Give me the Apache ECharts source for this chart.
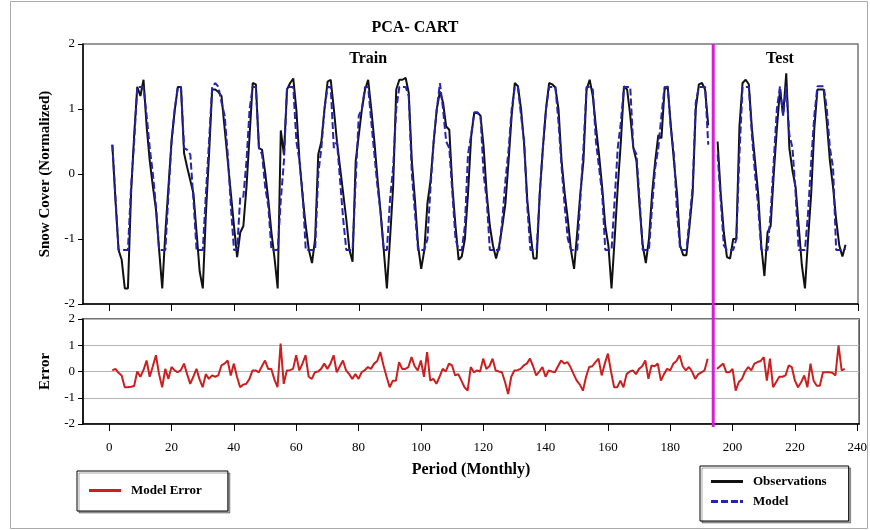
<!DOCTYPE html>
<html>
<head>
<meta charset="utf-8">
<script src="https://cdn.jsdelivr.net/npm/echarts@6/dist/echarts.min.js"></script>
<style>
  html, body { margin: 0; padding: 0; background: #fff; }
  #main { width: 870px; height: 530px; }
</style>
</head>
<body>
<div id="main"></div>
<script>
// monthly values, month 1..236 (193-194 are the gap between train and test)
const observations = [
  0.45, -0.4, -1.17, -1.32, -1.76, -1.76, -0.3, 0.6, 1.34, 1.2, 1.45, 0.73,
  0.2, -0.19, -0.55, -1.17, -1.76, -0.9, -0.19, 0.52, 0.98, 1.34, 1.34, 0.32,
  0.1, -0.1, -0.3, -0.9, -1.5, -1.76, -0.6, 0.3, 1.3, 1.3, 1.26, 1.2,
  0.7, 0.2, -0.3, -0.8, -1.28, -0.9, -0.8, -0.2, 0.6, 1.4, 1.38, 0.4,
  0.37, 0.02, -0.4, -0.9, -1.3, -1.76, 0.67, 0.3, 1.3, 1.4, 1.47, 0.98,
  0.2, -0.35, -0.8, -1.17, -1.37, -1.0, 0.3, 0.5, 1.0, 1.42, 1.45, 1.0,
  0.5, 0.1, -0.3, -0.7, -1.17, -1.35, 0.2, 0.6, 1.0, 1.3, 1.45, 1.0,
  0.5, -0.08, -0.6, -1.17, -1.76, -1.0, -0.2, 1.3, 1.45, 1.45, 1.48, 1.25,
  0.2, -0.4, -1.1, -1.46, -1.17, -0.45, -0.1, 0.5, 1.0, 1.27, 1.1, 0.73,
  0.68, -0.2, -0.8, -1.32, -1.27, -1.0, -0.3, 0.57, 0.94, 0.94, 0.9, 0.42,
  -0.3, -0.8, -1.1, -1.3, -1.1, -0.8, -0.45, 0.2, 0.9, 1.4, 1.35, 1.0,
  0.45, -0.4, -0.9, -1.3, -1.3, -0.3, 0.4, 1.0, 1.4, 1.38, 1.33, 1.0,
  0.2, -0.3, -0.7, -1.17, -1.46, -0.9, -0.3, 0.2, 1.3, 1.45, 1.2, 0.73,
  0.3, -0.2, -0.8, -1.1, -1.76, -1.0, -0.2, 0.5, 1.35, 1.3, 0.9, 0.4,
  0.2, -0.5, -1.1, -1.37, -1.0, -0.3, 0.2, 0.6, 0.55, 1.3, 1.35, 0.75,
  0.2, -0.3, -1.1, -1.25, -1.25, -0.8, -0.3, 1.0, 1.38, 1.4, 1.3, 0.75,
  null, null,
  0.5, -0.3, -0.9, -1.28, -1.3, -1.0, -1.0, 0.73, 1.4, 1.45, 1.38, 0.7,
  0.2, -0.3, -1.1, -1.57, -0.9, -0.8, 0.0, 0.7, 1.3, 0.9, 1.55, 0.4,
  0.05, -0.2, -0.8, -1.4, -1.76, -1.0, -0.3, 0.7, 1.3, 1.3, 1.3, 0.8,
  0.2, -0.2, -0.7, -1.1, -1.27, -1.09
];

const model = [
  0.45, -0.35, -1.17, -1.17, -1.17, -1.17, -0.2, 0.5, 1.34, 1.34, 1.34, 0.9,
  0.4, 0.0, -0.5, -1.17, -1.17, -1.17, -0.3, 0.5, 1.0, 1.34, 1.34, 0.4,
  0.37, 0.3, -0.4, -1.17, -1.17, -1.17, -0.3, 0.5, 1.34, 1.4, 1.34, 1.1,
  0.9, 0.3, -0.5, -1.17, -1.17, -0.35, -0.35, 0.2, 1.0, 1.34, 1.34, 0.4,
  0.3, -0.2, -0.5, -1.17, -1.17, -1.17, -0.4, 0.2, 1.34, 1.34, 1.34, 0.5,
  0.2, -0.3, -1.17, -1.17, -1.17, -1.17, 0.0, 0.4, 1.0, 1.34, 1.34, 0.4,
  0.5, -0.1, -0.7, -1.17, -1.17, -1.17, -0.1, 0.9, 1.0, 1.34, 1.34, 0.8,
  0.3, -0.2, -0.6, -1.17, -1.17, -0.4, 0.1, 1.0, 1.34, 1.34, 1.34, 1.2,
  0.0, -0.6, -1.17, -1.17, -1.17, -1.0, -0.2, 0.5, 1.0, 1.4, 1.0, 0.5,
  0.4, -0.3, -1.0, -1.17, -1.17, -0.8, 0.3, 0.6, 0.95, 0.95, 0.9, 0.0,
  -0.4, -1.17, -1.17, -1.17, -1.17, -0.7, -0.1, 0.37, 1.0, 1.34, 1.34, 0.9,
  0.5, -0.5, -1.17, -1.17, -1.17, -0.3, 0.4, 1.0, 1.34, 1.34, 1.34, 0.8,
  0.1, -0.5, -1.0, -1.17, -1.17, -1.17, -0.4, 0.4, 1.34, 1.34, 1.3, 0.5,
  0.1, -0.3, -1.17, -1.17, -1.17, -0.4, 0.4, 0.8, 1.34, 1.34, 1.34, 0.4,
  0.3, -0.4, -1.17, -1.17, -1.17, -0.5, 0.1, 0.4, 0.9, 1.34, 1.34, 0.7,
  0.3, -0.6, -1.17, -1.17, -1.17, -0.7, -0.2, 1.1, 1.34, 1.34, 1.34, 0.45,
  null, null,
  0.3, -0.4, -1.1, -1.17, -1.17, -1.17, -1.0, 0.3, 1.34, 1.34, 1.34, 0.6,
  0.0, -0.5, -1.17, -1.17, -1.17, -0.6, 0.2, 1.0, 1.35, 0.9, 1.35, 0.6,
  0.4, -0.3, -1.17, -1.17, -1.17, -0.6, 0.2, 0.9, 1.35, 1.35, 1.35, 1.0,
  0.4, 0.1, -1.17, -1.17, -1.17, -1.15
];

const modelError = [
  0.04, 0.1, -0.05, -0.15, -0.6, -0.6, -0.58, -0.55, 0.0, -0.2, 0.05, 0.42,
  -0.2, 0.2, 0.62, -0.1, -0.6, 0.1, -0.28, 0.17, 0.04, -0.03, 0.05, 0.3,
  -0.1, -0.47, -0.2, 0.1, -0.3, -0.6, -0.1, -0.28, -0.15, -0.2, -0.15, 0.23,
  0.3, 0.42, -0.15, 0.3, -0.2, -0.6, -0.5, -0.47, -0.28, 0.04, 0.04, -0.03,
  0.2, 0.42, 0.1, 0.1, -0.3, -0.6, 1.06, -0.47, 0.04, 0.05, 0.1, 0.62,
  0.04, 0.3, 0.62, -0.2, -0.28, -0.03, 0.0, 0.1, 0.3, 0.1, 0.3, 0.62,
  -0.03, 0.2, 0.42, 0.04, -0.1, -0.28, -0.1, -0.28, -0.03, 0.05, 0.17, 0.1,
  0.3, 0.4, 0.74, 0.23, -0.2, -0.6, -0.35, -0.35, 0.36, 0.1, 0.1, 0.17,
  0.55, 0.2, 0.04, 0.42, -0.2, 0.74, -0.35, -0.28, -0.47, -0.2, 0.1, 0.0,
  0.3, 0.23, -0.15, -0.1, -0.35, -0.6, -0.73, 0.17, -0.03, 0.04, 0.0, 0.49,
  0.1, 0.2, 0.49, 0.04, 0.0, -0.03, -0.4, -0.86, -0.2, 0.04, 0.05, 0.1,
  0.23, 0.3, 0.49, 0.2, -0.15, 0.0, 0.17, -0.2, 0.04, 0.0, -0.03, 0.2,
  0.42, 0.3, 0.36, 0.17, -0.1, -0.35, -0.5, -0.73, -0.2, 0.17, 0.2, 0.36,
  0.49, -0.15, 0.3, 0.68, 0.0, -0.6, -0.6, -0.35, -0.6, -0.1, 0.0, 0.04,
  -0.1, 0.1, 0.2, 0.42, -0.28, 0.23, 0.2, 0.3, -0.35, -0.1, 0.1, 0.04,
  0.3, 0.4, 0.62, 0.2, 0.04, 0.17, 0.0, -0.28, -0.1, -0.03, 0.04, 0.49,
  null, null,
  0.1, 0.2, 0.3, -0.03, -0.03, 0.1, -0.73, -0.4, -0.28, 0.0, 0.17, 0.04,
  0.3, 0.36, 0.4, 0.55, -0.35, 0.49, -0.6, -0.4, -0.2, -0.2, -0.15, 0.23,
  0.17, -0.35, -0.6, -0.41, -0.15, -0.6, 0.3, -0.35, -0.54, -0.54, -0.03, -0.03,
  -0.03, -0.05, -0.15, 1.0, 0.04, 0.1
];

const xTicks = [0, 20, 40, 60, 80, 100, 120, 140, 160, 180, 200, 220, 240];
const splitMonth = 193.6;

const serif = 'Liberation Serif';
const toPairs = arr => arr.map((v, i) => [i + 1, v]);
const solidIcon = 'path://M0,0h32v3h-32z';
const dashIcon = 'path://M0,0h7v3h-7z M10,0h7v3h-7z M20,0h7v3h-7z M29,0h3v3h-3z';

const chart = echarts.init(document.getElementById('main'));

const legendBox = {
  orient: 'vertical',
  borderColor: '#000',
  borderWidth: 1,
  shadowColor: 'rgba(0,0,0,0.35)',
  shadowOffsetX: 2,
  shadowOffsetY: 2,
  backgroundColor: '#fff',
  itemWidth: 32,
  itemHeight: 3,
  textStyle: { fontFamily: serif, fontWeight: 'bold', fontSize: 13, color: '#000', padding: [0, 0, 0, 5] }
};

const option = {
  animation: false,
  backgroundColor: '#fff',
  title: {
    text: 'PCA- CART',
    left: 410,
    top: 15,
    textAlign: 'center',
    textStyle: { fontFamily: serif, fontWeight: 'bold', fontSize: 16, color: '#000' }
  },
  legend: [
    Object.assign({}, legendBox, {
      data: [{ name: 'Model Error', icon: solidIcon }],
      left: 77,
      top: 471,
      padding: [13, 26, 14, 12]
    }),
    Object.assign({}, legendBox, {
      data: [{ name: 'Observations', icon: solidIcon }, { name: 'Model', icon: dashIcon }],
      left: 700,
      top: 466,
      padding: [9, 22, 13, 11],
      itemGap: 7
    })
  ],
  grid: [
    { left: 83, top: 44, width: 775, height: 260, show: true, borderColor: '#777', borderWidth: 1.5 },
    { left: 83, top: 319, width: 777, height: 105, show: true, borderColor: '#444', borderWidth: 1.5 }
  ],
  xAxis: [
    {
      type: 'value', gridIndex: 0, min: -8.4, max: 240,
      axisLine: { onZero: false, lineStyle: { color: '#000', width: 1.5 } },
      axisTick: { customValues: xTicks, length: 7, lineStyle: { color: '#000' } },
      axisLabel: { show: false },
      splitLine: { show: false }
    },
    {
      type: 'value', gridIndex: 1, min: -8.4, max: 240.6,
      name: 'Period (Monthly)',
      nameLocation: 'middle',
      nameGap: 38,
      nameTextStyle: { fontFamily: serif, fontWeight: 'bold', fontSize: 16, color: '#000' },
      axisLine: { onZero: false, lineStyle: { color: '#000', width: 1.5 } },
      axisTick: { customValues: xTicks, length: 7, lineStyle: { color: '#000' } },
      axisLabel: { customValues: xTicks, margin: 17, fontFamily: serif, fontSize: 13, color: '#000' },
      splitLine: { show: false }
    }
  ],
  yAxis: [
    {
      type: 'value', gridIndex: 0, min: -2, max: 2, interval: 1,
      name: 'Snow Cover (Normalized)',
      nameLocation: 'middle',
      nameGap: 30,
      nameRotate: 90,
      nameTextStyle: { fontFamily: serif, fontWeight: 'bold', fontSize: 15, color: '#000' },
      axisLine: { show: true, onZero: false, lineStyle: { color: '#000', width: 1.5 } },
      axisTick: { show: true, length: 5, lineStyle: { color: '#000' } },
      axisLabel: { margin: 8, fontFamily: serif, fontSize: 13, color: '#000' },
      splitLine: { show: false }
    },
    {
      type: 'value', gridIndex: 1, min: -2, max: 2, interval: 1,
      name: 'Error',
      nameLocation: 'middle',
      nameGap: 30,
      nameRotate: 90,
      nameTextStyle: { fontFamily: serif, fontWeight: 'bold', fontSize: 15, color: '#000' },
      axisLine: { show: true, onZero: false, lineStyle: { color: '#000', width: 1.5 } },
      axisTick: { show: true, length: 5, lineStyle: { color: '#000' } },
      axisLabel: { margin: 8, fontFamily: serif, fontSize: 13, color: '#000' },
      splitLine: { show: true, lineStyle: { color: '#b5b5b5', width: 1 } }
    }
  ],
  series: [
    {
      name: 'Observations',
      type: 'line',
      xAxisIndex: 0, yAxisIndex: 0,
      data: toPairs(observations),
      symbol: 'none',
      color: '#111',
      lineStyle: { color: '#111', width: 2 },
      z: 3
    },
    {
      name: 'Model',
      type: 'line',
      xAxisIndex: 0, yAxisIndex: 0,
      data: toPairs(model),
      symbol: 'none',
      color: '#2424b4',
      lineStyle: { color: '#2424b4', width: 2, type: [7, 3] },
      z: 4
    },
    {
      name: 'Model Error',
      type: 'line',
      xAxisIndex: 1, yAxisIndex: 1,
      data: toPairs(modelError),
      symbol: 'none',
      color: '#cc1f1f',
      lineStyle: { color: '#cc1f1f', width: 2 },
      z: 3
    }
  ]
};

chart.setOption(option);

// magenta split line between train and test, spanning both panels
const xs = chart.convertToPixel({ xAxisIndex: 0 }, splitMonth);
const yTop = chart.convertToPixel({ yAxisIndex: 0 }, 2);
const yBottom = chart.convertToPixel({ yAxisIndex: 1 }, -2);
const xTrain = chart.convertToPixel({ xAxisIndex: 0 }, 83);
const xTest = chart.convertToPixel({ xAxisIndex: 0 }, 215);
const yLabel = chart.convertToPixel({ yAxisIndex: 0 }, 1.77);

chart.setOption({
  graphic: [
    {
      type: 'rect', silent: true, z: -1,
      shape: { x: 10.5, y: 1.5, width: 857, height: 527 },
      style: { fill: 'none', stroke: '#aaa', lineWidth: 1 }
    },
    {
      type: 'line', silent: true, z: 10,
      shape: { x1: xs, y1: yTop, x2: xs, y2: yBottom + 3 },
      style: { stroke: '#d41fd4', lineWidth: 3 }
    },
    {
      type: 'text', silent: true, z: 10, x: xTrain, y: yLabel,
      style: { text: 'Train', fontFamily: serif, fontWeight: 'bold', fontSize: 16, fill: '#000', align: 'center', verticalAlign: 'middle' }
    },
    {
      type: 'text', silent: true, z: 10, x: xTest, y: yLabel,
      style: { text: 'Test', fontFamily: serif, fontWeight: 'bold', fontSize: 16, fill: '#000', align: 'center', verticalAlign: 'middle' }
    }
  ]
});
</script>
</body>
</html>
